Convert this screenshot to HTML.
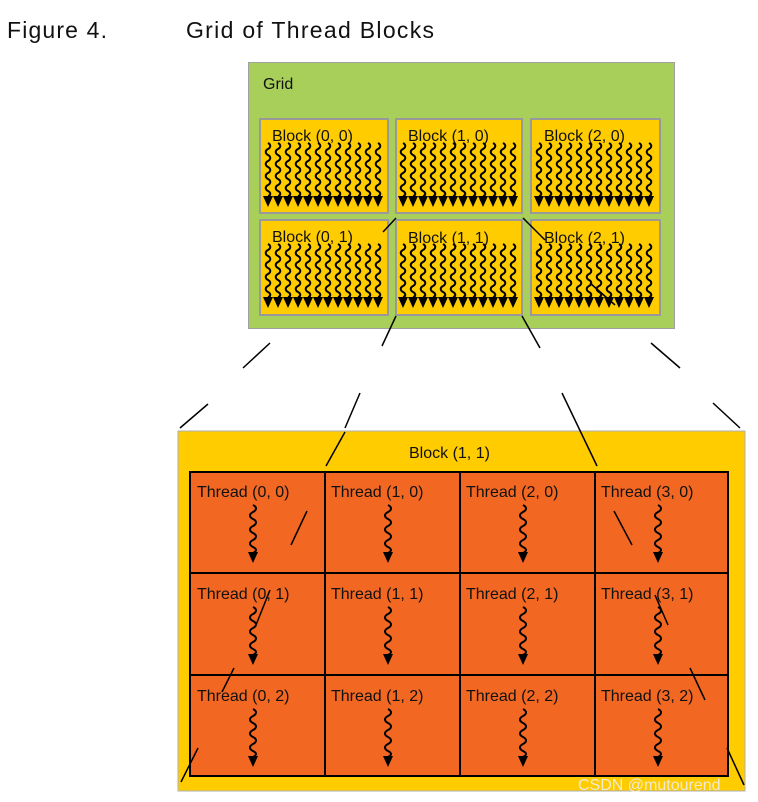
<!DOCTYPE html>
<html><head><meta charset="utf-8"><style>
html,body{margin:0;padding:0;background:#fff;}
svg{display:block;}
text{font-family:"Liberation Sans",sans-serif;fill:#111;}
</style></head><body>
<svg width="758" height="802" viewBox="0 0 758 802" xmlns="http://www.w3.org/2000/svg">
<defs>
<g id="s">
<path d="M0 0 c3 1.5 3 4.5 0 6 c-3 1.5 -3 4.5 0 6 c3 1.5 3 4.5 0 6 c-3 1.5 -3 4.5 0 6 c3 1.5 3 4.5 0 6 c-3 1.5 -3 4.5 0 6 c3 1.5 3 4.5 0 6 c-3 1.5 -3 4.5 0 6 c3 1.5 3 4.5 0 5" fill="none" stroke="#000" stroke-width="2"/>
<polygon points="-5,53 5,53 0,64" fill="#000"/>
</g>
<g id="row"><use href="#s" x="0"/><use href="#s" x="10"/><use href="#s" x="20"/><use href="#s" x="30"/><use href="#s" x="40"/><use href="#s" x="50"/><use href="#s" x="60"/><use href="#s" x="70"/><use href="#s" x="80"/><use href="#s" x="90"/><use href="#s" x="100"/><use href="#s" x="110"/></g>
<g id="t">
<path d="M0 0 c4 2 4 5 0 7 c-4 2 -4 5 0 7 c4 2 4 5 0 7 c-4 2 -4 5 0 7 c4 2 4 5 0 7 c-4 2 -4 5 0 7 c4 2 4 4 0 6" fill="none" stroke="#000" stroke-width="2"/>
<polygon points="-5,47 5,47 0,58" fill="#000"/>
</g>
</defs>
<text x="7" y="38" font-size="23" textLength="100" fill="#222">Figure 4.</text>
<text x="186" y="38" font-size="23" textLength="248" fill="#222">Grid of Thread Blocks</text>

<rect x="248.5" y="62.5" width="426" height="266" fill="#a8cf5a" stroke="#a0a0a0"/>
<text x="263" y="89" font-size="16">Grid</text>

<g stroke="#999" stroke-width="2" fill="#ffcc00">
<rect x="260" y="119" width="128" height="94"/><rect x="396" y="119" width="126" height="94"/><rect x="531" y="119" width="129" height="94"/>
<rect x="260" y="220" width="128" height="95"/><rect x="396" y="220" width="126" height="95"/><rect x="531" y="220" width="129" height="95"/>
</g>
<g font-size="16">
<text x="272" y="141">Block (0, 0)</text><text x="408" y="141">Block (1, 0)</text><text x="544" y="141">Block (2, 0)</text>
<text x="272" y="242">Block (0, 1)</text><text x="408" y="243">Block (1, 1)</text><text x="544" y="243">Block (2, 1)</text>
</g>
<use href="#row" x="268" y="143"/><use href="#row" x="403" y="143"/><use href="#row" x="539" y="143"/>
<use href="#row" x="268" y="244"/><use href="#row" x="403" y="244"/><use href="#row" x="539" y="244"/>

<rect x="178" y="431" width="567" height="360" fill="#ffcc00" stroke="#b0b0b0"/>
<text x="409" y="458" font-size="16">Block (1, 1)</text>
<rect x="190" y="472" width="538" height="304" fill="#f26722" stroke="#000" stroke-width="2"/>
<g stroke="#000" stroke-width="2">
<line x1="325" y1="472" x2="325" y2="776"/><line x1="460" y1="472" x2="460" y2="776"/><line x1="595" y1="472" x2="595" y2="776"/>
<line x1="190" y1="573" x2="728" y2="573"/><line x1="190" y1="675" x2="728" y2="675"/>
</g>
<g font-size="16">
<text x="197" y="497">Thread (0, 0)</text><text x="331" y="497">Thread (1, 0)</text><text x="466" y="497">Thread (2, 0)</text><text x="601" y="497">Thread (3, 0)</text>
<text x="197" y="599">Thread (0, 1)</text><text x="331" y="599">Thread (1, 1)</text><text x="466" y="599">Thread (2, 1)</text><text x="601" y="599">Thread (3, 1)</text>
<text x="197" y="701">Thread (0, 2)</text><text x="331" y="701">Thread (1, 2)</text><text x="466" y="701">Thread (2, 2)</text><text x="601" y="701">Thread (3, 2)</text>
</g>
<use href="#t" x="253" y="505"/><use href="#t" x="388" y="505"/><use href="#t" x="523" y="505"/><use href="#t" x="658" y="505"/>
<use href="#t" x="253" y="607"/><use href="#t" x="388" y="607"/><use href="#t" x="523" y="607"/><use href="#t" x="658" y="607"/>
<use href="#t" x="253" y="709"/><use href="#t" x="388" y="709"/><use href="#t" x="523" y="709"/><use href="#t" x="658" y="709"/>

<g stroke="#000" stroke-width="1.5">
<line x1="270" y1="343" x2="243" y2="368"/>
<line x1="208" y1="404" x2="180" y2="428"/>
<line x1="396" y1="218" x2="383" y2="232"/>
<line x1="396" y1="316" x2="382" y2="346"/>
<line x1="360" y1="393" x2="345" y2="428"/>
<line x1="345" y1="432" x2="326" y2="466"/>
<line x1="307" y1="511" x2="291" y2="545"/>
<line x1="270" y1="590" x2="256" y2="625"/>
<line x1="234" y1="668" x2="222" y2="692"/>
<line x1="198" y1="748" x2="181" y2="782"/>
<line x1="523" y1="218" x2="545" y2="240"/>
<line x1="590" y1="283" x2="615" y2="305"/>
<line x1="522" y1="316" x2="540" y2="348"/>
<line x1="562" y1="393" x2="597" y2="466"/>
<line x1="614" y1="511" x2="632" y2="545"/>
<line x1="655" y1="595" x2="668" y2="625"/>
<line x1="690" y1="668" x2="705" y2="700"/>
<line x1="727" y1="748" x2="744" y2="785"/>
<line x1="651" y1="343" x2="680" y2="368"/>
<line x1="713" y1="403" x2="740" y2="428"/>
</g>
<text x="578" y="790" font-size="16" fill="#e8e8e8" style="fill:#eee" opacity="0.9">CSDN @mutourend</text>
</svg>
</body></html>
